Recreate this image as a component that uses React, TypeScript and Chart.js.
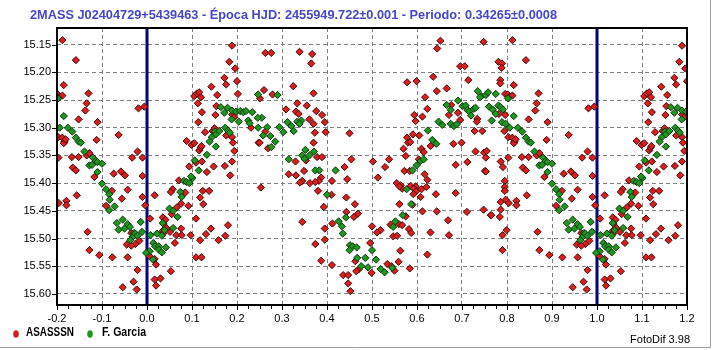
import React, { useEffect, useRef } from "react";
import { Chart, registerables } from "chart.js";

Chart.register(...registerables);

// ---------- texts ----------
const TITLE =
  "2MASS J02404729+5439463 - Época HJD: 2455949.722±0.001 - Periodo: 0.34265±0.0008";
const SERIES_NAMES = ["ASASSSN", "F. Garcia"];
const FOOTER = "FotoDif 3.98";

// ---------- axes ----------
const X_TICKS = [-0.2, -0.1, 0.0, 0.1, 0.2, 0.3, 0.4, 0.5, 0.6, 0.7, 0.8, 0.9, 1.0, 1.1, 1.2];
const Y_TICKS = [15.15, 15.2, 15.25, 15.3, 15.35, 15.4, 15.45, 15.5, 15.55, 15.6];
const X_MIN = -0.2;
const X_MAX = 1.2;
const Y_MIN = 15.12;
const Y_MAX = 15.62;
const EPOCH_LINES = [0, 1];

// ---------- data: [phase, magnitude] read in phase 0..1 ----------
const ASASSN: number[][] = [
  [0.189, 15.152], [0.183, 15.181], [0.196, 15.193], [0.172, 15.21], [0.2, 15.216], [0.176, 15.222],
  [0.143, 15.226], [0.156, 15.241], [0.202, 15.239], [0.105, 15.243], [0.111, 15.238], [0.116, 15.236],
  [0.12, 15.245], [0.113, 15.256], [0.122, 15.272], [0.154, 15.261], [0.189, 15.276], [0.194, 15.281],
  [0.152, 15.277], [0.231, 15.3], [0.248, 15.327], [0.114, 15.29], [0.129, 15.308], [0.146, 15.306],
  [0.15, 15.301], [0.176, 15.314], [0.189, 15.317], [0.191, 15.327], [0.194, 15.342], [0.189, 15.361],
  [0.185, 15.386], [0.173, 15.369], [0.088, 15.324], [0.099, 15.331], [0.105, 15.328], [0.116, 15.341],
  [0.119, 15.336], [0.121, 15.333], [0.109, 15.363], [0.122, 15.361], [0.094, 15.37], [0.133, 15.38],
  [0.148, 15.37], [0.071, 15.395], [0.085, 15.417], [0.057, 15.411], [0.053, 15.416], [0.017, 15.422],
  [0.118, 15.426], [0.124, 15.414], [0.138, 15.414], [0.125, 15.438], [0.092, 15.441], [0.076, 15.437],
  [0.066, 15.444], [0.055, 15.456], [0.007, 15.464], [0.035, 15.462], [0.041, 15.466], [0.037, 15.474],
  [0.043, 15.481], [0.109, 15.464], [0.076, 15.482], [0.142, 15.482], [0.18, 15.476], [0.035, 15.486],
  [0.036, 15.491], [0.051, 15.488], [0.065, 15.494], [0.077, 15.494], [0.097, 15.494], [0.131, 15.492],
  [0.118, 15.503], [0.159, 15.503], [0.174, 15.495], [0.062, 15.508], [0.006, 15.532], [0.017, 15.537],
  [0.02, 15.547], [0.053, 15.559], [0.017, 15.574], [0.03, 15.572], [0.02, 15.585], [0.109, 15.534],
  [0.121, 15.534],
  [0.263, 15.165], [0.276, 15.165], [0.339, 15.163], [0.367, 15.167], [0.365, 15.184], [0.325, 15.225],
  [0.26, 15.232], [0.279, 15.24], [0.251, 15.247], [0.37, 15.238], [0.334, 15.256], [0.309, 15.267],
  [0.355, 15.26], [0.331, 15.271], [0.337, 15.275], [0.376, 15.27], [0.389, 15.277], [0.361, 15.285],
  [0.395, 15.29], [0.37, 15.293], [0.263, 15.307], [0.269, 15.337], [0.25, 15.327], [0.373, 15.309],
  [0.397, 15.308], [0.45, 15.31], [0.37, 15.327], [0.33, 15.361], [0.353, 15.359], [0.378, 15.353],
  [0.389, 15.353], [0.454, 15.357], [0.502, 15.361], [0.439, 15.371], [0.349, 15.378], [0.315, 15.384],
  [0.331, 15.386], [0.387, 15.39], [0.382, 15.396], [0.374, 15.398], [0.362, 15.4], [0.345, 15.396],
  [0.34, 15.399], [0.411, 15.396], [0.445, 15.393], [0.253, 15.408], [0.38, 15.414], [0.41, 15.421],
  [0.443, 15.426], [0.462, 15.438], [0.393, 15.443], [0.443, 15.452], [0.469, 15.455], [0.46, 15.461],
  [0.345, 15.47], [0.412, 15.473], [0.395, 15.482], [0.5, 15.478], [0.395, 15.502], [0.374, 15.51],
  [0.496, 15.508], [0.463, 15.541], [0.387, 15.54], [0.411, 15.548], [0.47, 15.556], [0.465, 15.559],
  [0.499, 15.562], [0.436, 15.566], [0.447, 15.566], [0.447, 15.581], [0.452, 15.595],
  [0.652, 15.143], [0.645, 15.157], [0.748, 15.145], [0.696, 15.189], [0.706, 15.189], [0.714, 15.214],
  [0.636, 15.208], [0.578, 15.218], [0.599, 15.216], [0.666, 15.229], [0.644, 15.234], [0.618, 15.245],
  [0.676, 15.259], [0.623, 15.266], [0.594, 15.277], [0.597, 15.288], [0.612, 15.28], [0.671, 15.277],
  [0.691, 15.273], [0.696, 15.286], [0.734, 15.284], [0.733, 15.289], [0.728, 15.306], [0.745, 15.306],
  [0.578, 15.318], [0.591, 15.312], [0.605, 15.314], [0.58, 15.327], [0.585, 15.326], [0.57, 15.338],
  [0.575, 15.351], [0.63, 15.333], [0.681, 15.329], [0.699, 15.327], [0.61, 15.338], [0.615, 15.344],
  [0.604, 15.357], [0.538, 15.357], [0.73, 15.343], [0.749, 15.345], [0.755, 15.342], [0.712, 15.362],
  [0.686, 15.367], [0.529, 15.371], [0.751, 15.378], [0.572, 15.378], [0.584, 15.378], [0.617, 15.384],
  [0.513, 15.39], [0.623, 15.394], [0.555, 15.4], [0.564, 15.404], [0.567, 15.41], [0.561, 15.406],
  [0.586, 15.405], [0.597, 15.406], [0.593, 15.41], [0.598, 15.415], [0.61, 15.411], [0.621, 15.407],
  [0.592, 15.42], [0.608, 15.425], [0.642, 15.42], [0.686, 15.418], [0.59, 15.439], [0.561, 15.438],
  [0.612, 15.451], [0.644, 15.451], [0.711, 15.452], [0.748, 15.448], [0.764, 15.458], [0.575, 15.46],
  [0.541, 15.475], [0.56, 15.474], [0.567, 15.476], [0.519, 15.485], [0.511, 15.489], [0.582, 15.483],
  [0.587, 15.49], [0.63, 15.489], [0.669, 15.467], [0.671, 15.494], [0.547, 15.496], [0.556, 15.495],
  [0.563, 15.522], [0.623, 15.529], [0.534, 15.546], [0.543, 15.55], [0.559, 15.542], [0.584, 15.554],
  [0.55, 15.558],
  [0.812, 15.142], [0.842, 15.178], [0.781, 15.181], [0.789, 15.184], [0.788, 15.192], [0.785, 15.214],
  [0.785, 15.22], [0.815, 15.223], [0.796, 15.239], [0.802, 15.24], [0.806, 15.244], [0.812, 15.242],
  [0.803, 15.247], [0.87, 15.238], [0.866, 15.256], [0.863, 15.269], [0.782, 15.275], [0.796, 15.277],
  [0.848, 15.285], [0.89, 15.29], [0.981, 15.265], [0.994, 15.262], [0.794, 15.306], [0.803, 15.317],
  [0.812, 15.318], [0.817, 15.325], [0.815, 15.328], [0.819, 15.321], [0.888, 15.322], [0.937, 15.313],
  [0.979, 15.343], [0.967, 15.354], [0.99, 15.354], [0.753, 15.354], [0.833, 15.353], [0.848, 15.353],
  [0.866, 15.35], [0.872, 15.346], [0.803, 15.354], [0.786, 15.361], [0.791, 15.371], [0.835, 15.372],
  [0.842, 15.377], [0.926, 15.383], [0.942, 15.379], [0.951, 15.386], [0.883, 15.389], [0.99, 15.387],
  [0.753, 15.379], [0.795, 15.396], [0.795, 15.407], [0.795, 15.414], [0.922, 15.414], [0.957, 15.412],
  [0.944, 15.428], [0.99, 15.425], [0.844, 15.422], [0.797, 15.43], [0.804, 15.436], [0.821, 15.432],
  [0.821, 15.44], [0.786, 15.434], [0.909, 15.441], [0.996, 15.44], [0.765, 15.458], [0.784, 15.461],
  [0.786, 15.448], [0.799, 15.485], [0.868, 15.488], [0.79, 15.494], [0.965, 15.49], [0.955, 15.511],
  [0.974, 15.51], [0.965, 15.513], [0.983, 15.504], [0.79, 15.521], [0.872, 15.521], [0.894, 15.53],
  [0.923, 15.534], [0.957, 15.534], [0.979, 15.557], [0.97, 15.578], [0.977, 15.592], [0.946, 15.588],
];

const GARCIA: number[][] = [
  [0.164, 15.263], [0.179, 15.264], [0.172, 15.273], [0.189, 15.269], [0.198, 15.271], [0.207, 15.27],
  [0.214, 15.272], [0.22, 15.27], [0.234, 15.272], [0.247, 15.24], [0.188, 15.285], [0.204, 15.289],
  [0.225, 15.287], [0.228, 15.292], [0.247, 15.3], [0.151, 15.307], [0.144, 15.317], [0.153, 15.312],
  [0.161, 15.306], [0.174, 15.3], [0.18, 15.305], [0.184, 15.309], [0.139, 15.325], [0.153, 15.334],
  [0.133, 15.349], [0.106, 15.359], [0.115, 15.377], [0.082, 15.396], [0.088, 15.398], [0.094, 15.4],
  [0.101, 15.391], [0.098, 15.388], [0.074, 15.416], [0.077, 15.425], [0.05, 15.446], [0.058, 15.45],
  [0.068, 15.461], [0.035, 15.472], [0.058, 15.481], [0.039, 15.485], [0.022, 15.491], [0.033, 15.495],
  [0.008, 15.494], [0.014, 15.508], [0.018, 15.514], [0.026, 15.514], [0.026, 15.52], [0.033, 15.525],
  [0.042, 15.516], [0.006, 15.523], [0.013, 15.538],
  [0.29, 15.241], [0.255, 15.282], [0.246, 15.282], [0.267, 15.299], [0.294, 15.299], [0.303, 15.308],
  [0.312, 15.29], [0.321, 15.297], [0.326, 15.306], [0.334, 15.289], [0.343, 15.287], [0.339, 15.293],
  [0.258, 15.314], [0.274, 15.315], [0.285, 15.325], [0.276, 15.335], [0.352, 15.34], [0.315, 15.357],
  [0.345, 15.35], [0.35, 15.356], [0.361, 15.35], [0.371, 15.343], [0.374, 15.377], [0.383, 15.377],
  [0.419, 15.377], [0.4, 15.421], [0.426, 15.469], [0.433, 15.478], [0.442, 15.462], [0.435, 15.491],
  [0.451, 15.512], [0.457, 15.514], [0.466, 15.516], [0.45, 15.521], [0.5, 15.521], [0.485, 15.535],
  [0.467, 15.535], [0.476, 15.55], [0.491, 15.552],
  [0.735, 15.234], [0.743, 15.243], [0.753, 15.241], [0.758, 15.236], [0.74, 15.245], [0.666, 15.259],
  [0.675, 15.268], [0.691, 15.251], [0.701, 15.261], [0.708, 15.26], [0.712, 15.268], [0.716, 15.271],
  [0.72, 15.278], [0.726, 15.266], [0.73, 15.264], [0.76, 15.262], [0.648, 15.289], [0.656, 15.295],
  [0.675, 15.293], [0.682, 15.297], [0.688, 15.294], [0.624, 15.305], [0.634, 15.322], [0.643, 15.329],
  [0.608, 15.36], [0.615, 15.357], [0.599, 15.368], [0.59, 15.377], [0.577, 15.411], [0.587, 15.438],
  [0.568, 15.458], [0.552, 15.469], [0.547, 15.479], [0.509, 15.538], [0.519, 15.555], [0.528, 15.561],
  [0.545, 15.553],
  [0.775, 15.239], [0.802, 15.247], [0.768, 15.267], [0.781, 15.26], [0.786, 15.263], [0.775, 15.275],
  [0.791, 15.267], [0.815, 15.279], [0.766, 15.287], [0.789, 15.29], [0.797, 15.293], [0.806, 15.3],
  [0.824, 15.3], [0.834, 15.307], [0.842, 15.318], [0.848, 15.325], [0.853, 15.327], [0.861, 15.343],
  [0.88, 15.354], [0.886, 15.36], [0.89, 15.362], [0.9, 15.365], [0.872, 15.368], [0.878, 15.367],
  [0.89, 15.38], [0.9, 15.401], [0.909, 15.411], [0.916, 15.42], [0.917, 15.43], [0.916, 15.449],
  [0.928, 15.442], [0.933, 15.472], [0.946, 15.466], [0.957, 15.474], [0.937, 15.484], [0.95, 15.482],
  [0.962, 15.479], [0.971, 15.49], [0.986, 15.47], [0.989, 15.488], [0.968, 15.497], [0.974, 15.491],
  [0.963, 15.503], [0.979, 15.495], [0.998, 15.526],
];

// ---------- styles ----------
const RED = "#d81e1e";
const RED_EDGE = "#4a0808";
const GREEN = "#1f961f";
const GREEN_EDGE = "#0a3a0a";
const NAVY = "#000080";
const TITLE_COLOR = "#4646c8";

// The phase diagram repeats each cycle: observations near the edges of 0..1
// are also shown one cycle earlier / later, as in the source plot.
function folded(points: number[][]) {
  const out: { x: number; y: number }[] = [];
  for (const [p, m] of points) {
    out.push({ x: p, y: m });
    if (p - 1 >= X_MIN) out.push({ x: p - 1, y: m });
    if (p + 1 <= X_MAX) out.push({ x: p + 1, y: m });
  }
  return out;
}

const decorPlugin = {
  id: "decor",
  beforeDatasetsDraw(chart: any) {
    const { ctx, chartArea, scales } = chart;
    ctx.save();
    ctx.strokeStyle = NAVY;
    ctx.lineWidth = 3;
    for (const v of EPOCH_LINES) {
      const x = Math.round(scales.x.getPixelForValue(v));
      ctx.beginPath();
      ctx.moveTo(x, chartArea.top);
      ctx.lineTo(x, chartArea.bottom);
      ctx.stroke();
    }
    ctx.restore();
  },
  afterDraw(chart: any) {
    const { ctx, chartArea, scales } = chart;
    const { left, right, top, bottom } = chartArea;
    ctx.save();
    // plot frame
    ctx.strokeStyle = "#000";
    ctx.lineWidth = 2;
    ctx.strokeRect(left, top, right - left, bottom - top);
    // tick marks
    ctx.lineWidth = 1;
    ctx.beginPath();
    const step = (X_TICKS[1] - X_TICKS[0]) / 4;
    for (let i = 0; i < X_TICKS.length; i++) {
      for (let k = 0; k < 4; k++) {
        if (i === X_TICKS.length - 1 && k > 0) break;
        const v = X_TICKS[i] + k * step;
        const x = Math.round(scales.x.getPixelForValue(v)) + 0.5;
        ctx.moveTo(x, bottom + 1);
        ctx.lineTo(x, bottom + (k === 0 ? 5 : 4));
      }
    }
    for (const v of Y_TICKS) {
      const y = Math.round(scales.y.getPixelForValue(v)) + 0.5;
      ctx.moveTo(left - 1, y);
      ctx.lineTo(left - 5, y);
    }
    ctx.stroke();

    // title (condensed bold sans, fitted to the source width)
    ctx.fillStyle = TITLE_COLOR;
    ctx.font = 'bold 13px "Liberation Sans", Arial, sans-serif';
    ctx.textBaseline = "middle";
    ctx.textAlign = "left";
    ctx.fillText(TITLE, 30, 15, 527);

    // legend
    const legendY = 333;
    const items = [
      { name: SERIES_NAMES[0], color: RED, mx: 16, tx: 26, w: 48 },
      { name: SERIES_NAMES[1], color: GREEN, mx: 90, tx: 102, w: 44 },
    ];
    ctx.font = 'bold 12px "Liberation Sans", Arial, sans-serif';
    for (const it of items) {
      ctx.fillStyle = it.color;
      ctx.beginPath();
      ctx.ellipse(it.mx, legendY + 1, 2.8, 3.8, 0, 0, Math.PI * 2);
      ctx.fill();
      ctx.fillStyle = "#000";
      ctx.fillText(it.name, it.tx, legendY, it.w);
    }

    // footer
    ctx.font = '11px "Liberation Sans", Arial, sans-serif';
    ctx.textAlign = "right";
    ctx.fillStyle = "#000";
    ctx.fillText(FOOTER, 690, 340);

    // window frame
    ctx.strokeStyle = "#a0a0a0";
    ctx.lineWidth = 1;
    ctx.beginPath();
    ctx.moveTo(710.5, 0);
    ctx.lineTo(710.5, 347.5);
    ctx.moveTo(0, 347.5);
    ctx.lineTo(710.5, 347.5);
    ctx.stroke();
    ctx.restore();
  },
};

export default function App() {
  const ref = useRef<HTMLCanvasElement | null>(null);

  useEffect(() => {
    if (!ref.current) return;
    const pointCommon = {
      pointStyle: "rectRot",
      pointRadius: 3.6,
      pointHoverRadius: 3.6,
      borderWidth: 1,
    };
    const chart = new Chart(ref.current, {
      type: "scatter",
      data: {
        datasets: [
          {
            label: SERIES_NAMES[1],
            data: folded(GARCIA),
            backgroundColor: GREEN,
            borderColor: GREEN_EDGE,
            ...pointCommon,
          },
          {
            label: SERIES_NAMES[0],
            data: folded(ASASSN),
            backgroundColor: RED,
            borderColor: RED_EDGE,
            ...pointCommon,
          },
        ],
      } as any,
      options: {
        responsive: false,
        animation: false,
        devicePixelRatio: 1,
        events: [],
        layout: { padding: { top: 28, right: 27, left: 0, bottom: 0 } },
        plugins: {
          legend: { display: false },
          title: { display: false },
          tooltip: { enabled: false },
        },
        scales: {
          x: {
            type: "linear",
            min: X_MIN,
            max: X_MAX,
            afterBuildTicks: (s: any) => {
              s.ticks = X_TICKS.map((v) => ({ value: v }));
            },
            afterFit: (s: any) => {
              s.height = 45;
            },
            ticks: {
              callback: (v: any) => Number(v).toFixed(1),
              font: { family: "Liberation Sans", size: 11 },
              color: "#000",
              padding: 7,
              maxRotation: 0,
              autoSkip: false,
            },
            grid: { color: "#808080", lineWidth: 1, drawTicks: false },
            border: { display: false, dash: [4, 3] },
          },
          y: {
            type: "linear",
            reverse: true,
            min: Y_MIN,
            max: Y_MAX,
            afterBuildTicks: (s: any) => {
              s.ticks = Y_TICKS.map((v) => ({ value: v }));
            },
            afterFit: (s: any) => {
              s.width = 57;
            },
            ticks: {
              callback: (v: any) => Number(v).toFixed(2),
              font: { family: "Liberation Sans", size: 11 },
              color: "#000",
              padding: 6,
              autoSkip: false,
            },
            grid: { color: "#808080", lineWidth: 1, drawTicks: false },
            border: { display: false, dash: [4, 3] },
          },
        },
      } as any,
      plugins: [decorPlugin],
    });
    return () => chart.destroy();
  }, []);

  return (
    <div style={{ position: "absolute", left: 0, top: 0, width: 714, height: 350, background: "#fff" }}>
      <canvas ref={ref} width={714} height={350} style={{ width: 714, height: 350, display: "block" }} />
    </div>
  );
}
